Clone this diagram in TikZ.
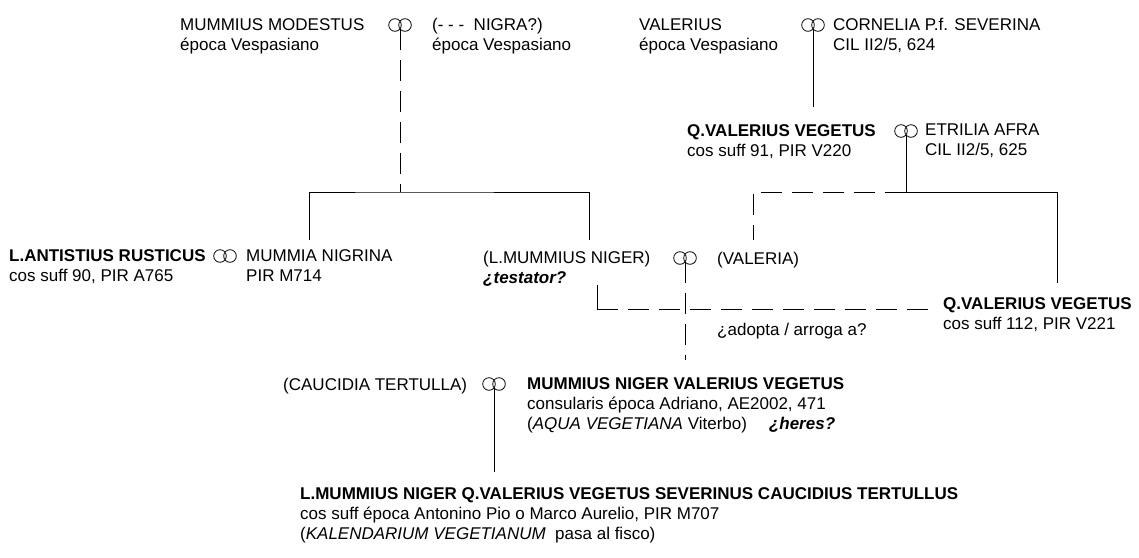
\documentclass[tikz,border=0pt]{standalone}
\usepackage{fontspec}
\setmainfont{Liberation Sans}
\begin{document}
\begin{tikzpicture}[x=1pt, y=-1pt,
  person/.style={anchor=north west, yshift=13pt, inner sep=0pt, align=left,
    font=\fontsize{17}{20}\selectfont, execute at begin node={\rule{0pt}{13pt}}},
  link/.style={draw=black, line width=0.8pt},
  maybe/.style={link, dash pattern=on 21pt off 10pt},
  wed/.pic={\draw[line width=0.8pt] (-5,0) circle (6.3pt) (5,0) circle (6.3pt);
            \coordinate (-s) at (0,3.8);}]
\useasboundingbox (0,0) rectangle (1139,557);
\node[person] (modestus) at (180,31) {MUMMIUS MODESTUS\\época Vespasiano};
\pic (w1) at (400,25) {wed};
\node[person] (nigra) at (432,31) {(-\ -\ -\ \ NIGRA?)\\época Vespasiano};
\node[person] (valerius) at (639,31) {VALERIUS\\época Vespasiano};
\pic (w2) at (813,25) {wed};
\node[person] (cornelia) at (833,31) {CORNELIA P.f. SEVERINA\\CIL II2/5, 624};
\node[person] (vegetus) at (687,137) {\textbf{Q.VALERIUS VEGETUS}\\cos suff 91, PIR V220};
\pic (w3) at (906,131) {wed};
\node[person] (etrilia) at (925,137) {ETRILIA AFRA\\CIL II2/5, 625};
\node[person] (rusticus) at (9,262) {\textbf{L.ANTISTIUS RUSTICUS}\\cos suff 90, PIR A765};
\pic (w4) at (225,256) {wed};
\node[person] (nigrina) at (246,262) {MUMMIA NIGRINA\\PIR M714};
\node[person] (niger) at (483,264) {(L.MUMMIUS NIGER)\\\textbf{\textit{¿testator?}}};
\pic (w5) at (685,258) {wed};
\node[person] (valeria) at (717,264) {(VALERIA)};
\node[person] (vegetusii) at (943,310) {\textbf{Q.VALERIUS VEGETUS}\\cos suff 112, PIR V221};
\node[person] (adopta) at (717,335) {¿adopta / arroga a?};
\node[person] (caucidia) at (283,390) {(CAUCIDIA TERTULLA)};
\pic (w6) at (494,384) {wed};
\node[person] (heir) at (527,390) {\textbf{MUMMIUS NIGER VALERIUS VEGETUS}\\consularis época Adriano, AE2002, 471\\(\textit{AQUA VEGETIANA} Viterbo)\hspace{22pt}\textbf{\textit{¿heres?}}};
\node[person] (severinus) at (300,500) {\textbf{L.MUMMIUS NIGER Q.VALERIUS VEGETUS SEVERINUS CAUCIDIUS TERTULLUS}\\cos suff época Antonino Pio o Marco Aurelio, PIR M707\\(\textit{KALENDARIUM VEGETIANUM}\ \ pasa al fisco)};
% lines of descent
\coordinate (j1) at (400,192);
\coordinate (d1) at (309,240);
\coordinate (d2) at (589,240);
\draw[maybe] (w1-s) -- (j1);
\draw[link] (d1) |- (j1) -| (d2);
\coordinate (d7) at (813,107);
\draw[link] (w2-s) -- (d7);
\coordinate (j3) at (906,192);
\coordinate (d3) at (1057,283);
\coordinate (d4) at (753,240);
\draw[link] (w3-s) -- (j3) -| (d3);
\draw[maybe] (j3) -| (d4);
\coordinate (d5) at (685,360);
\draw[maybe] (w5-s) -- (d5);
\coordinate (a1) at (597,285);
\coordinate (a2) at (928,309);
\draw[link] (a1) -- (a1 |- a2);
\draw[maybe] (a1 |- a2) -- (a2);
\coordinate (d6) at (494,472);
\draw[link] (w6-s) -- (d6);
\end{tikzpicture}
\end{document}
